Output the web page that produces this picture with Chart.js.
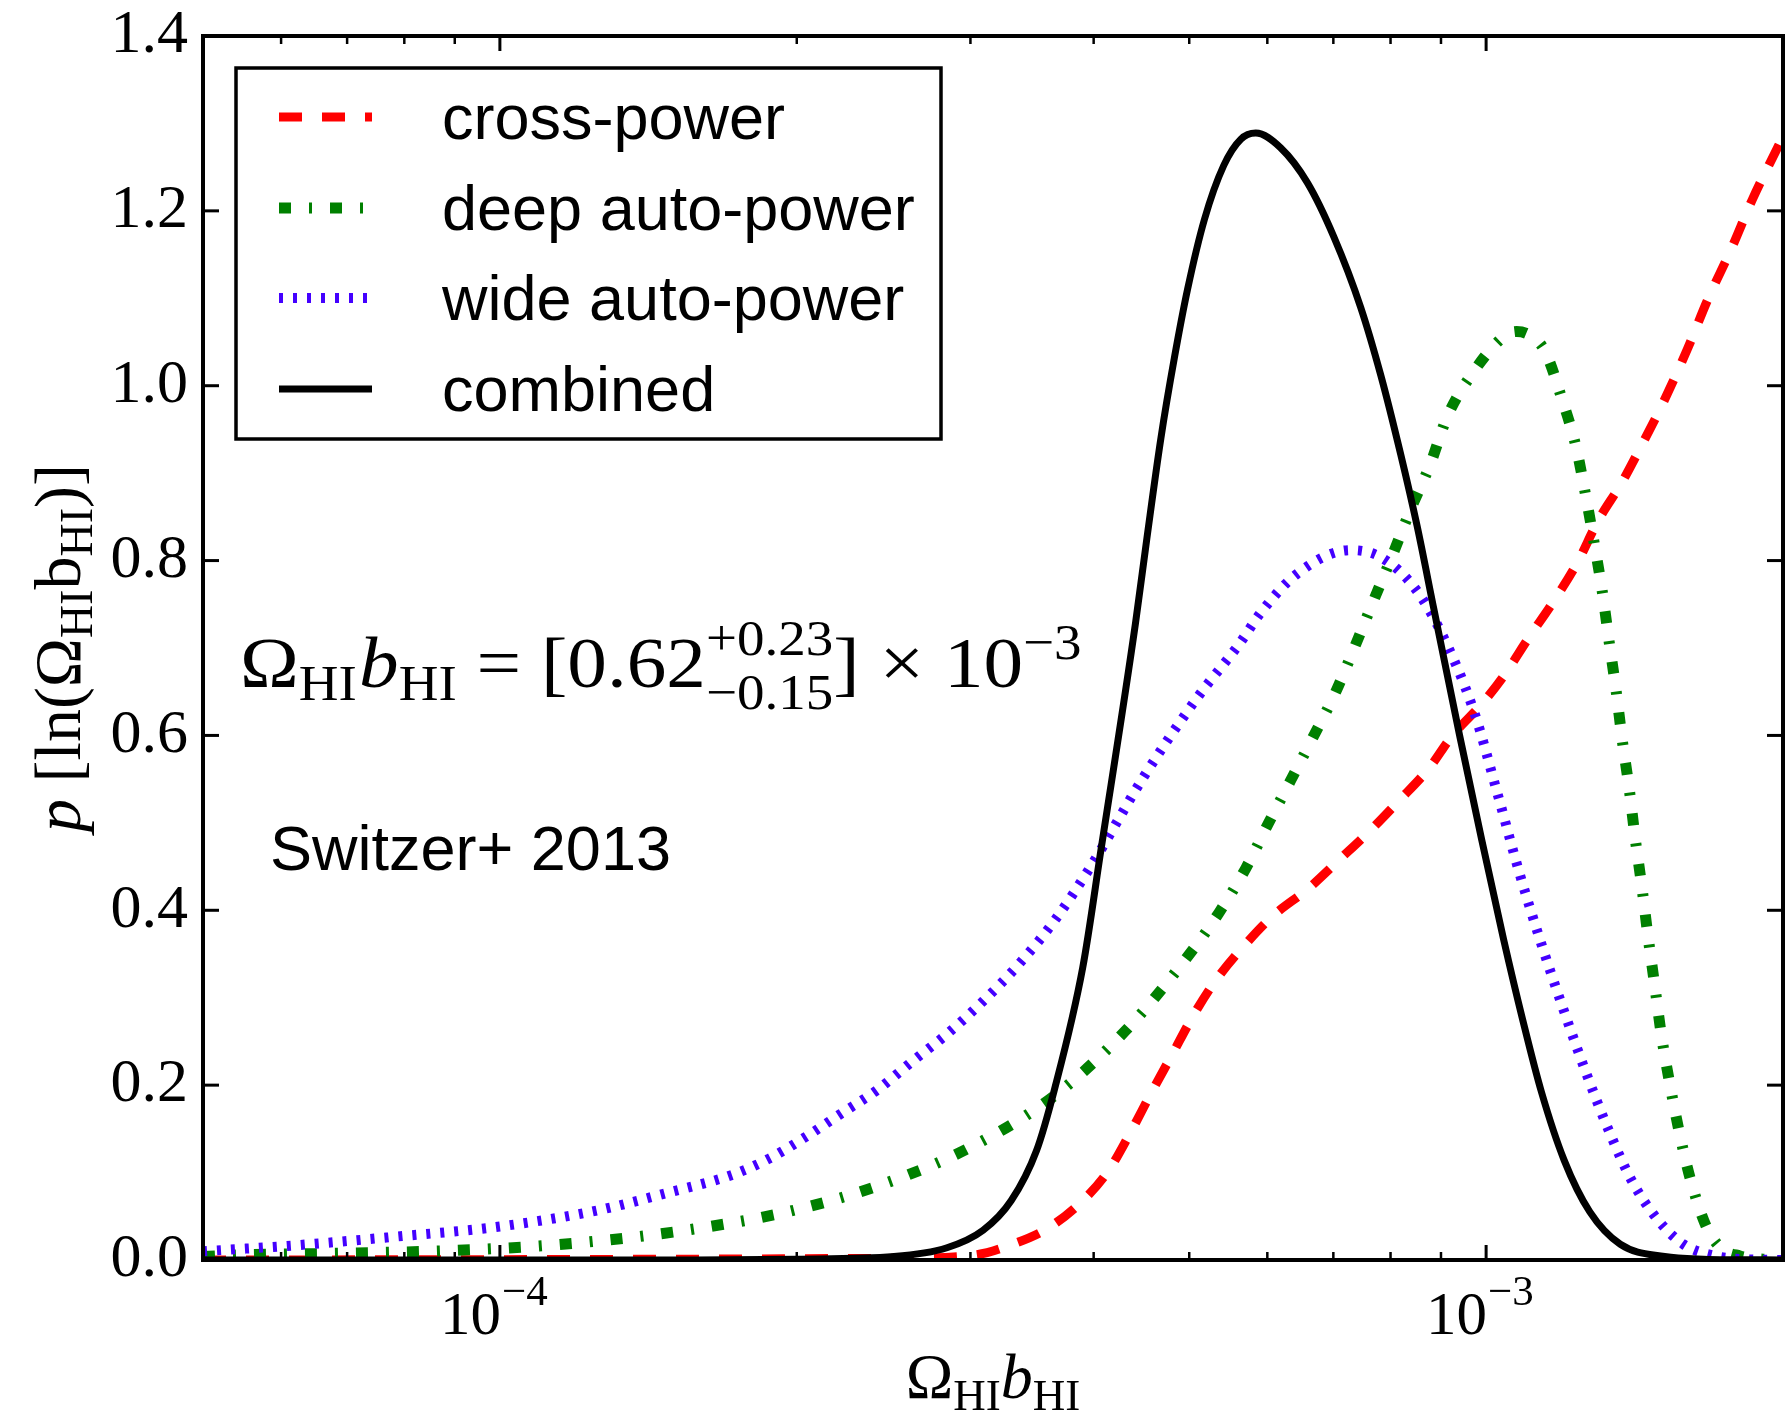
<!DOCTYPE html>
<html>
<head>
<meta charset="utf-8">
<script src="https://cdn.jsdelivr.net/npm/chart.js@4.4.0/dist/chart.umd.min.js"></script>
<style>
    html, body { margin: 0; padding: 0; background: #fff; }
    #chart { display: block; }
</style>
</head>
<body>
<canvas id="chart" width="1787" height="1414"></canvas>
<script>
// 曲线数据
const crossX = [5.0e-5, 2.51e-4, 3.04e-4, 3.30e-4, 3.59e-4, 3.90e-4, 4.14e-4, 4.35e-4, 4.57e-4, 4.81e-4, 5.05e-4, 5.32e-4, 5.71e-4, 6.07e-4, 6.62e-4, 7.10e-4, 7.61e-4, 8.17e-4, 8.76e-4, 9.23e-4, 9.90e-4, 1.042e-3, 1.105e-3, 1.170e-3, 1.238e-3, 1.298e-3, 1.374e-3, 1.441e-3, 1.511e-3, 1.600e-3, 1.677e-3, 1.775e-3, 1.862e-3, 1.970e-3, 2.0e-3];
const crossY = [0, 0.002, 0.006, 0.0175, 0.036, 0.068, 0.102, 0.144, 0.190, 0.236, 0.280, 0.320, 0.362, 0.393, 0.426, 0.458, 0.490, 0.526, 0.563, 0.599, 0.636, 0.668, 0.712, 0.753, 0.798, 0.845, 0.890, 0.934, 0.980, 1.042, 1.098, 1.158, 1.213, 1.270, 1.285];

const deepX = [5.0e-5, 5.43e-5, 6.86e-5, 8.65e-5, 1.096e-4, 1.380e-4, 1.626e-4, 1.938e-4, 2.407e-4, 2.989e-4, 3.650e-4, 4.315e-4, 5.012e-4, 5.358e-4, 5.706e-4, 6.012e-4, 6.339e-4, 6.683e-4, 7.04e-4, 7.35e-4, 7.694e-4, 8.035e-4, 8.381e-4, 8.783e-4, 9.131e-4, 9.683e-4, 1.044e-3, 1.074e-3, 1.11e-3, 1.148e-3, 1.192e-3, 1.233e-3, 1.262e-3, 1.287e-3, 1.311e-3, 1.332e-3, 1.355e-3, 1.374e-3, 1.397e-3, 1.416e-3, 1.439e-3, 1.459e-3, 1.482e-3, 1.505e-3, 1.535e-3, 1.569e-3, 1.612e-3, 1.671e-3, 1.730e-3, 1.809e-3, 1.905e-3, 2.0e-3];
const deepY = [0.004, 0.0057, 0.0077, 0.0103, 0.016, 0.0267, 0.038, 0.054, 0.084, 0.128, 0.188, 0.263, 0.351, 0.397, 0.448, 0.499, 0.549, 0.599, 0.650, 0.700, 0.755, 0.806, 0.858, 0.911, 0.9645, 1.014, 1.057, 1.062, 1.057, 1.039, 0.987, 0.931, 0.874, 0.820, 0.766, 0.709, 0.650, 0.595, 0.538, 0.483, 0.4255, 0.371, 0.315, 0.2585, 0.2024, 0.1475, 0.0915, 0.039, 0.0137, 0.0046, 0.001, 0];

const wideX = [5.0e-5, 6.24e-5, 7.89e-5, 9.95e-5, 1.259e-4, 1.469e-4, 1.726e-4, 1.875e-4, 2.037e-4, 2.215e-4, 2.410e-4, 2.618e-4, 2.844e-4, 3.090e-4, 3.357e-4, 3.650e-4, 3.972e-4, 4.498e-4, 5.093e-4, 5.623e-4, 5.905e-4, 6.433e-4, 7.286e-4, 7.816e-4, 8.447e-4, 8.974e-4, 9.723e-4, 1.026e-3, 1.080e-3, 1.138e-3, 1.200e-3, 1.262e-3, 1.334e-3, 1.403e-3, 1.493e-3, 1.585e-3, 1.702e-3, 1.82e-3, 2.0e-3];
const wideY = [0.010, 0.017, 0.027, 0.038, 0.057, 0.076, 0.098, 0.116, 0.140, 0.167, 0.194, 0.227, 0.259, 0.296, 0.338, 0.388, 0.450, 0.553, 0.643, 0.705, 0.740, 0.785, 0.812, 0.804, 0.770, 0.721, 0.627, 0.535, 0.444, 0.361, 0.284, 0.215, 0.146, 0.092, 0.046, 0.018, 0.005, 0.001, 0];

const combX = [5.0e-5, 1.58e-4, 2.00e-4, 2.51e-4, 2.84e-4, 3.09e-4, 3.30e-4, 3.50e-4, 3.65e-4, 3.90e-4, 4.07e-4, 4.41e-4, 4.53e-4, 4.68e-4, 4.83e-4, 4.98e-4, 5.18e-4, 5.42e-4, 5.64e-4, 5.84e-4, 6.19e-4, 6.59e-4, 7.01e-4, 7.46e-4, 7.82e-4, 8.19e-4, 8.51e-4, 8.85e-4, 9.40e-4, 9.90e-4, 1.042e-3, 1.089e-3, 1.138e-3, 1.200e-3, 1.274e-3, 1.368e-3, 1.517e-3, 1.66e-3, 2.0e-3];
const combY = [0, 0, 0.001, 0.004, 0.014, 0.034, 0.068, 0.125, 0.195, 0.335, 0.470, 0.728, 0.826, 0.940, 1.032, 1.110, 1.190, 1.252, 1.282, 1.289, 1.272, 1.232, 1.170, 1.090, 1.012, 0.922, 0.840, 0.745, 0.600, 0.480, 0.366, 0.275, 0.192, 0.114, 0.055, 0.018, 0.004, 0.001, 0];

// 图例与刻度
const seriesLabels = ['cross-power', 'deep auto-power', 'wide auto-power', 'combined'];
const yTicks = [0, 0.2, 0.4, 0.6, 0.8, 1.0, 1.2, 1.4];
const xMajorTicks = [1e-4, 1e-3];
const xMajorExp = ['\u22124', '\u22123'];
const xMinorTicks = [6e-5, 7e-5, 8e-5, 9e-5, 2e-4, 3e-4, 4e-4, 5e-4, 6e-4, 7e-4, 8e-4, 9e-4];

const SERIF = '"Liberation Serif", "Times New Roman", serif';
const SANS = '"Liberation Sans", Arial, sans-serif';

function toPoints(xs, ys) {
    return xs.map((x, i) => ({ x: x, y: ys[i] }));
}

// 画带上下标的文字，返回总宽度
function drawRuns(ctx, x, y, runs, dry) {
    let cx = x;
    runs.forEach(r => {
        ctx.font = r.font;
        if (r.sup !== undefined) {
            const w = Math.max(ctx.measureText(r.sup).width, ctx.measureText(r.sub).width);
            if (!dry) {
                ctx.fillText(r.sup, cx, y + r.supDy);
                ctx.fillText(r.sub, cx, y + r.subDy);
            }
            cx += w + (r.gap || 0);
        } else {
            if (!dry) ctx.fillText(r.t, cx, y + (r.dy || 0));
            cx += ctx.measureText(r.t).width + (r.gap || 0);
        }
    });
    return cx - x;
}

const decorPlugin = {
    id: 'decor',
    afterDatasetsDraw(chart) {
        const ctx = chart.ctx;
        const a = chart.chartArea;
        const xs = chart.scales.x, ys = chart.scales.y;
        ctx.save();
        ctx.strokeStyle = '#000';
        ctx.fillStyle = '#000';
        ctx.setLineDash([]);

        function seg(x1, y1, x2, y2) {
            ctx.beginPath();
            ctx.moveTo(x1, y1);
            ctx.lineTo(x2, y2);
            ctx.stroke();
        }

        // 刻度线（向内）
        ctx.lineWidth = 3;
        yTicks.forEach(v => {
            const py = ys.getPixelForValue(v);
            seg(a.left, py, a.left + 16, py);
            seg(a.right, py, a.right - 16, py);
        });
        xMajorTicks.forEach(v => {
            const px = xs.getPixelForValue(v);
            seg(px, a.bottom, px, a.bottom - 15);
            seg(px, a.top, px, a.top + 15);
        });
        ctx.lineWidth = 2.5;
        xMinorTicks.forEach(v => {
            const px = xs.getPixelForValue(v);
            seg(px, a.bottom, px, a.bottom - 8);
            seg(px, a.top, px, a.top + 8);
        });

        // 边框
        ctx.lineWidth = 4;
        ctx.strokeRect(a.left, a.top, a.right - a.left, a.bottom - a.top);

        // x 轴刻度标签 10^n
        ctx.textBaseline = 'alphabetic';
        xMajorTicks.forEach((v, i) => {
            const px = xs.getPixelForValue(v);
            ctx.font = '61px ' + SERIF;
            ctx.textAlign = 'right';
            ctx.fillText('10', px + 1, 1334);
            ctx.font = '43px ' + SERIF;
            ctx.textAlign = 'left';
            ctx.fillText(xMajorExp[i], px + 2, 1305);
        });
        ctx.textAlign = 'left';

        // x 轴标题
        const xTitle = [
            { t: '\u03A9', font: '64px ' + SERIF },
            { t: 'HI', font: '45px ' + SERIF, dy: 12 },
            { t: 'b', font: 'italic 64px ' + SERIF },
            { t: 'HI', font: '45px ' + SERIF, dy: 12 }
        ];
        const xtw = drawRuns(ctx, 0, 0, xTitle, true);
        drawRuns(ctx, (a.left + a.right) / 2 - xtw / 2, 1398, xTitle);

        // y 轴标题（旋转）
        const yTitle = [
            { t: 'p', font: 'italic 66px ' + SERIF },
            { t: ' [ln(', font: '66px ' + SERIF },
            { t: '\u03A9', font: '66px ' + SERIF },
            { t: 'HI', font: '46px ' + SERIF, dy: 12 },
            { t: 'b', font: '66px ' + SERIF },
            { t: 'HI', font: '46px ' + SERIF, dy: 12 },
            { t: ')]', font: '66px ' + SERIF }
        ];
        const ytw = drawRuns(ctx, 0, 0, yTitle, true);
        ctx.save();
        ctx.translate(80, (a.top + a.bottom) / 2);
        ctx.rotate(-Math.PI / 2);
        drawRuns(ctx, -ytw / 2, 0, yTitle);
        ctx.restore();

        // 公式（原图略横向拉伸）
        const eq = [
            { t: '\u03A9', font: '72px ' + SERIF },
            { t: 'HI', font: '50px ' + SERIF, dy: 13, gap: 2 },
            { t: 'b', font: 'italic 72px ' + SERIF },
            { t: 'HI', font: '50px ' + SERIF, dy: 13 },
            { t: ' = [0.62', font: '72px ' + SERIF },
            { sup: '+0.23', sub: '\u22120.15', font: '50px ' + SERIF, supDy: -32, subDy: 22 },
            { t: '] \u00D7 10', font: '72px ' + SERIF },
            { t: '\u22123', font: '50px ' + SERIF, dy: -28 }
        ];
        ctx.save();
        ctx.translate(240, 687);
        ctx.scale(1.1, 1);
        drawRuns(ctx, 0, 0, eq);
        ctx.restore();

        // 注释
        ctx.font = '63px ' + SANS;
        ctx.fillText('Switzer+ 2013', 270, 870);

        // 图例
        const box = { x: 236, y: 68, w: 705, h: 371 };
        ctx.fillStyle = '#fff';
        ctx.fillRect(box.x, box.y, box.w, box.h);
        ctx.lineWidth = 3.5;
        ctx.strokeRect(box.x, box.y, box.w, box.h);
        const rows = [117, 208, 298, 389];
        chart.data.datasets.forEach((ds, i) => {
            ctx.strokeStyle = ds.borderColor;
            ctx.lineWidth = ds.borderWidth;
            ctx.setLineDash(ds.borderDash || []);
            ctx.lineCap = 'butt';
            seg(279, rows[i], 372, rows[i]);
            ctx.setLineDash([]);
            ctx.fillStyle = '#000';
            ctx.font = '63px ' + SANS;
            ctx.fillText(ds.label, 442, rows[i] + 22);
        });
        ctx.restore();
    }
};

function initChart() {
    const ctx = document.getElementById('chart').getContext('2d');
    new Chart(ctx, {
        type: 'scatter',
        data: {
            datasets: [
                {
                    label: seriesLabels[0],
                    data: toPoints(crossX, crossY),
                    borderColor: '#ff0000',
                    borderWidth: 9,
                    borderDash: [23, 20],
                    order: 3
                },
                {
                    label: seriesLabels[1],
                    data: toPoints(deepX, deepY),
                    borderColor: '#008000',
                    borderWidth: 11,
                    borderDash: [12, 18, 3, 18],
                    order: 2
                },
                {
                    label: seriesLabels[2],
                    data: toPoints(wideX, wideY),
                    borderColor: '#4400ff',
                    borderWidth: 10,
                    borderDash: [4, 10],
                    order: 1
                },
                {
                    label: seriesLabels[3],
                    data: toPoints(combX, combY),
                    borderColor: '#000000',
                    borderWidth: 7,
                    order: 0
                }
            ]
        },
        options: {
            responsive: false,
            animation: false,
            devicePixelRatio: 1,
            events: [],
            layout: { padding: { top: 36, right: 4, bottom: 0, left: 0 } },
            datasets: {
                scatter: {
                    showLine: true,
                    pointRadius: 0,
                    cubicInterpolationMode: 'monotone',
                    clip: 0,
                    fill: false
                }
            },
            plugins: {
                legend: { display: false },
                tooltip: { enabled: false },
                title: { display: false }
            },
            scales: {
                x: {
                    type: 'logarithmic',
                    min: 5e-5,
                    max: 2e-3,
                    grid: { display: false, drawTicks: false },
                    border: { display: false },
                    ticks: { display: false },
                    afterFit: s => { s.height = 154; s.paddingLeft = 0; s.paddingRight = 0; }
                },
                y: {
                    min: 0,
                    max: 1.4,
                    grid: { display: false, drawTicks: false },
                    border: { display: false },
                    afterBuildTicks: s => { s.ticks = yTicks.map(v => ({ value: v })); },
                    ticks: {
                        padding: 15,
                        color: '#000',
                        font: { family: SERIF, size: 62 },
                        callback: v => Number(v).toFixed(1)
                    },
                    afterFit: s => { s.width = 203; s.paddingTop = 0; s.paddingBottom = 0; }
                }
            }
        },
        plugins: [decorPlugin]
    });
}

document.addEventListener('DOMContentLoaded', initChart);
</script>
</body>
</html>
